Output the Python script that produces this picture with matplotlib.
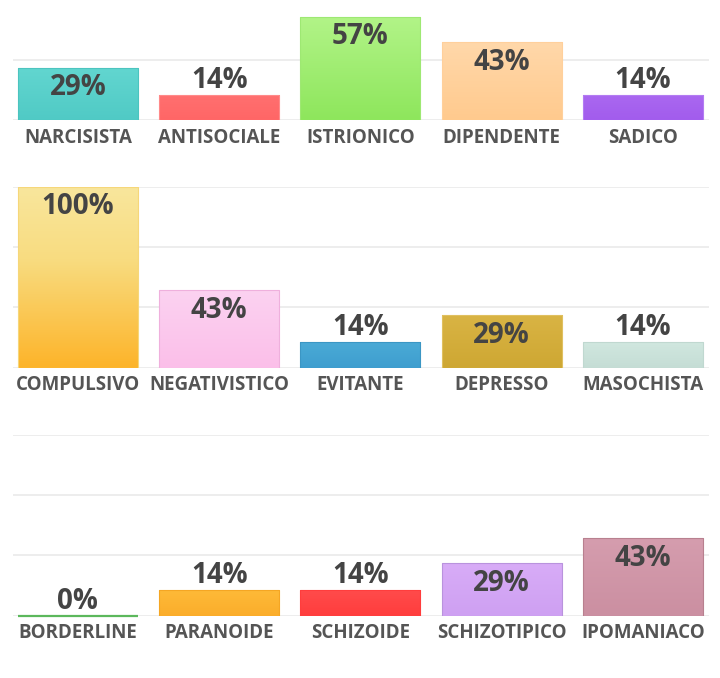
import matplotlib.pyplot as plt
import matplotlib.colors as mcolors
import numpy as np

plt.rcParams['font.family'] = ['Open Sans', 'DejaVu Sans']

# data, one list per row of the chart
row1_labels = ['NARCISISTA', 'ANTISOCIALE', 'ISTRIONICO', 'DIPENDENTE', 'SADICO']
row1_values = [29, 14, 57, 43, 14]
row2_labels = ['COMPULSIVO', 'NEGATIVISTICO', 'EVITANTE', 'DEPRESSO', 'MASOCHISTA']
row2_values = [100, 43, 14, 29, 14]
row3_labels = ['BORDERLINE', 'PARANOIDE', 'SCHIZOIDE', 'SCHIZOTIPICO', 'IPOMANIACO']
row3_values = [0, 14, 14, 29, 43]

# (top colour, bottom colour, edge colour)
row1_colors = [('#62d6d0', '#50cac5', '#4cc4bf'),
               ('#ff7070', '#ff6666', '#ff8a8a'),
               ('#b2f488', '#8ee65c', '#9ee873'),
               ('#ffd8aa', '#ffca8e', '#ffd09c'),
               ('#aa68f0', '#a25ced', '#b37cf2')]
row2_colors = [('#f9e69c', '#fdb42a', '#f6d77a'),
               ('#fcd2f1', '#fbbfe9', '#efb0dd'),
               ('#4aaad6', '#3f9ecf', '#3b96c4'),
               ('#d9b444', '#cea733', '#e0c060'),
               ('#d0e7df', '#c5ddd5', '#c0d8d0')]
row3_colors = [('#5cb85c', '#5cb85c', '#5cb85c'),
               ('#feba38', '#fbad2b', '#f5a623'),
               ('#ff4b4b', '#ff3d3d', '#ff3d3d'),
               ('#d8acf7', '#cea0f2', '#b993dd'),
               ('#d59dae', '#cb8fa1', '#b8808f')]

rows = [(row1_labels, row1_values, row1_colors),
        (row2_labels, row2_values, row2_colors),
        (row3_labels, row3_values, row3_colors)]

W, H = 720, 678
fig = plt.figure(figsize=(W / 100, H / 100), dpi=100)

baselines = [120, 367.7, 615.7]
full_h = 181
bar_w = 0.85

for (labels, values, colors), base in zip(rows, baselines):
    ax = fig.add_axes([13 / W, (H - base) / H, 696 / W, full_h / H])
    ax.set_xlim(-0.459, 4.467)
    ax.set_ylim(0, 100)
    ax.set_yticks([0, 100 / 3, 200 / 3, 100])
    ax.yaxis.grid(True, color='#e8e8e8', lw=1.1)
    ax.set_axisbelow(True)
    for s in ax.spines.values():
        s.set_visible(False)
    ax.tick_params(left=False, labelleft=False, bottom=False, pad=2)
    x = np.arange(len(labels))
    ax.set_xticks(x)
    ax.set_xticklabels(labels, fontsize=13.5, fontweight='bold', color='#555555')

    bars = ax.bar(x, values, width=bar_w, color='none', zorder=2)
    for b, v, (top, bot, edge) in zip(bars, values, colors):
        if v > 0:
            # compulsivo stays pale over its upper part
            if top == '#f9e69c':
                cmap = mcolors.LinearSegmentedColormap.from_list(
                    'g', [(0, bot), (0.6, '#f8dc80'), (1, top)])
            else:
                cmap = mcolors.LinearSegmentedColormap.from_list('g', [bot, top])
            grad = np.linspace(0, 1, 100).reshape(-1, 1)
            im = ax.imshow(grad, cmap=cmap, aspect='auto', origin='lower',
                           extent=[b.get_x(), b.get_x() + b.get_width(), 0, v],
                           zorder=2)
            im.set_clip_path(b)
            b.set_edgecolor(edge)
            b.set_linewidth(0.8)
            b.set_zorder(3)
        else:
            b.set_edgecolor(edge)
            b.set_linewidth(1.6)
            b.set_zorder(3)
            b.set_clip_on(False)
        inside = v >= 20
        ax.annotate(f'{v}%', (b.get_x() + b.get_width() / 2, v),
                    xytext=(0, -14.5 if inside else 10.5), textcoords='offset points',
                    ha='center', va='center', fontsize=20, fontweight='bold',
                    color='#444444', zorder=4)
    ax.set_xlim(-0.459, 4.467)
    ax.set_ylim(0, 100)

fig.savefig('out.png', dpi=100)
